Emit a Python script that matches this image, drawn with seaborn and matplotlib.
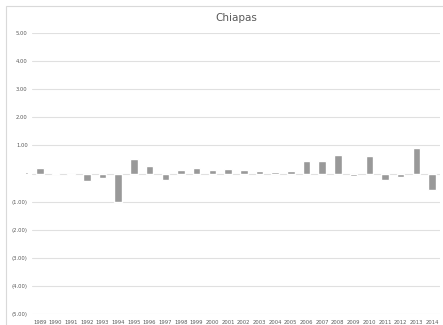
import matplotlib
matplotlib.use("Agg")
import matplotlib.pyplot as plt
import matplotlib.patches as mpatches
import seaborn as sns
import pandas as pd

years = [str(y) for y in range(1989, 2015)]
values = [0.21, 0.03, -0.06, -0.25, -0.15, -1.01, 0.53, 0.28, -0.22, 0.12,
          0.19, 0.12, 0.15, 0.14, 0.08, 0.05, 0.08, 0.45, 0.46, 0.67,
          -0.07, 0.62, -0.22, -0.12, 0.91, -0.59]
y_ticks = [5, 4, 3, 2, 1, 0, -1, -2, -3, -4, -5]
title = "Chiapas"

df = pd.DataFrame({"year": years, "value": values})

sns.set_style("white")
plt.rcParams["font.family"] = ["DejaVu Sans"]

fig = plt.figure(figsize=(4.43, 3.25), dpi=100)
ax = fig.add_axes([0.072, 0.034, 0.921, 0.864])

# chart frame
fig.patches.append(mpatches.Rectangle((6 / 443, -0.1), 1.2, 1 - 6 / 325 + 0.1,
                                      transform=fig.transFigure, fill=False,
                                      edgecolor="#d9d9d9", linewidth=0.8))

sns.barplot(data=df, x="year", y="value", color="#999999", saturation=1,
            width=0.48, ax=ax, zorder=3)

def fmt(v):
    if v == 0:
        return "-"
    if v < 0:
        return f"({abs(v):.2f})"
    return f"{v:.2f}"

ax.set_ylim(-5, 5)
ax.set_yticks(y_ticks)
ax.set_yticklabels([fmt(v) for v in y_ticks])
for v in y_ticks:
    ax.axhline(v, color="#e0e0e0", linewidth=0.8, zorder=1)
ax.set_xlim(-0.5, len(years) - 0.5)

for s in ax.spines.values():
    s.set_visible(False)
ax.tick_params(axis="both", length=0, labelsize=3.8, labelcolor="#595959", pad=3)
ax.tick_params(axis="x", pad=4)
ax.set_xlabel("")
ax.set_ylabel("")
ax.set_title(title, fontsize=7.5, color="#595959", pad=9)

fig.savefig("out.png", dpi=100)
